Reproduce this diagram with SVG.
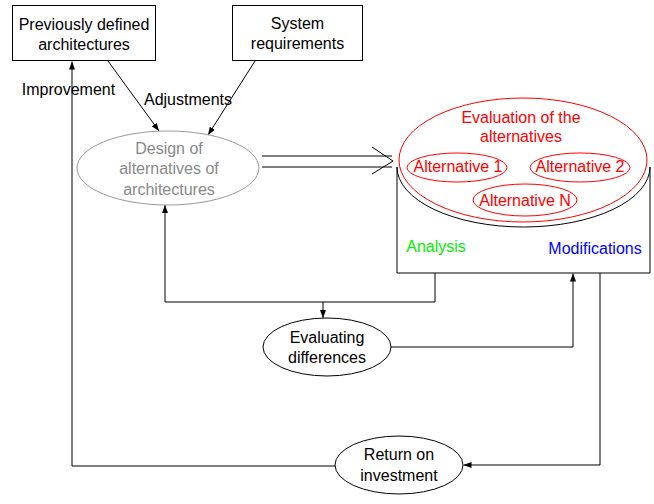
<svg xmlns="http://www.w3.org/2000/svg" width="654" height="504" viewBox="0 0 654 504">
<defs>
<marker id="ah" markerWidth="8" markerHeight="6" refX="8" refY="3" orient="auto" markerUnits="userSpaceOnUse">
<path d="M0,0 L8,3 L0,6 z" fill="#000"/>
</marker>
<style>
text{font-family:"Liberation Sans",Arial,sans-serif;text-anchor:middle;font-size:16px;fill:#000}
.box{fill:#fff;stroke:#000;stroke-width:1}
.el{fill:#fff;stroke:#000;stroke-width:1}
.ln{fill:none;stroke:#000;stroke-width:1}
.rs{fill:none;stroke:#ff0000;stroke-width:1}
.red{fill:#ff0000}
.gray{fill:#888}
</style>
</defs>
<rect width="654" height="504" fill="#fff"/>
<g id="connectors">
<path class="ln" d="M335,466 H72 V61.5" marker-end="url(#ah)"/>
<path class="ln" d="M108,61 L159,131" marker-end="url(#ah)"/>
<path class="ln" d="M255,61 L208,135" marker-end="url(#ah)"/>
<path class="ln" d="M435,273 V302 H165 V205" marker-end="url(#ah)"/>
<path class="ln" d="M323,302 V318" marker-end="url(#ah)"/>
<path class="ln" d="M391,347 H573 V273.5" marker-end="url(#ah)"/>
<path class="ln" d="M600,273 V465 H463.5" marker-end="url(#ah)"/>
<path class="ln" d="M262,156 H392 M262,167 H392 M372,147 L393,161 L372,174"/>
</g>
<g id="prev">
<rect class="box" x="12.5" y="5.5" width="143" height="55"/>
<text x="84" y="30">Previously defined</text>
<text x="84" y="50">architectures</text>
</g>
<g id="sysreq">
<rect class="box" x="232.5" y="5.5" width="130" height="55"/>
<text x="297.5" y="29">System</text>
<text x="297.5" y="49">requirements</text>
</g>
<g id="labels">
<text x="68.5" y="95">Improvement</text>
<text x="188" y="105">Adjustments</text>
</g>
<g id="design">
<ellipse cx="168" cy="168" rx="91" ry="37" fill="#fff" stroke="#999"/>
<text class="gray" x="169" y="153.5">Design of</text>
<text class="gray" x="169" y="174">alternatives of</text>
<text class="gray" x="169" y="194.5">architectures</text>
</g>
<g id="evaluation">
<path d="M397,167 V273 H650 V167" fill="#fff" stroke="#000"/>
<path class="ln" d="M397,167 A126.5,60 0 0 0 650,167"/>
<ellipse cx="523" cy="160" rx="124" ry="62" fill="#fff" stroke="#ff0000"/>
<text class="red" x="521" y="122.5">Evaluation of the</text>
<text class="red" x="521" y="142">alternatives</text>
<ellipse class="rs" cx="457" cy="167.5" rx="50" ry="14.5"/>
<text class="red" x="458" y="172">Alternative 1</text>
<ellipse class="rs" cx="580" cy="167.5" rx="50" ry="14.5"/>
<text class="red" x="580" y="172">Alternative 2</text>
<ellipse class="rs" cx="525" cy="200" rx="52" ry="16"/>
<text class="red" x="525" y="205.5">Alternative N</text>
<text x="436" y="252" style="fill:#00ee00">Analysis</text>
<text x="595" y="254" style="fill:#0000ff">Modifications</text>
</g>
<g id="evaldiff">
<ellipse class="el" cx="327" cy="347" rx="64" ry="29"/>
<text x="327" y="343">Evaluating</text>
<text x="327" y="363">differences</text>
</g>
<g id="roi">
<ellipse class="el" cx="399" cy="465" rx="64" ry="29"/>
<text x="399" y="460">Return on</text>
<text x="399" y="481">investment</text>
</g>
</svg>
